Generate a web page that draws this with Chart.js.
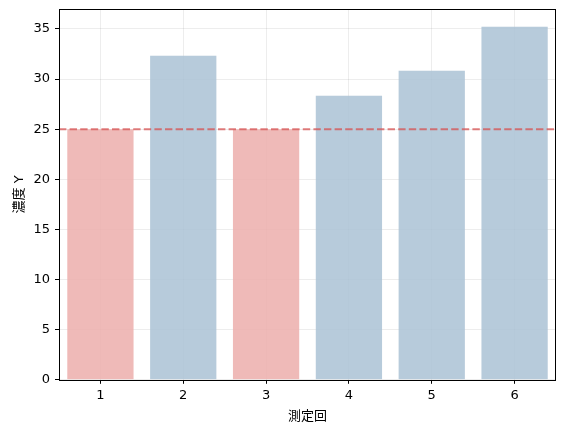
<!DOCTYPE html>
<html>
<head>
<meta charset="utf-8">
<script src="https://cdn.jsdelivr.net/npm/chart.js@4"></script>
<style>
html,body{margin:0;padding:0;background:#fff;}
#wrap{width:564px;height:432px;position:relative;}
</style>
</head>
<body>
<div id="wrap"><canvas id="c" width="564" height="432"></canvas></div>
<script>
const categories = ['1', '2', '3', '4', '5', '6'];
const values = [25.0, 32.33, 25.0, 28.33, 30.83, 35.23];
const threshold = 25;
const yTicks = [0, 5, 10, 15, 20, 25, 30, 35];
const yMax = 36.99;
const xTitle = '測定回';
const yTitle = '濃度 Y';

const RED = 'rgba(237,176,173,0.87)';
const BLUE = 'rgba(170,194,213,0.85)';
const barColors = values.map(v => v <= threshold ? RED : BLUE);

const FONT = '"DejaVu Sans", "Noto Sans CJK JP", sans-serif';

const frame = {
  id: 'frame',
  afterDatasetsDraw(chart) {
    const {ctx, chartArea: a, scales: {y}} = chart;
    const yp = y.getPixelForValue(threshold);
    ctx.save();
    ctx.strokeStyle = 'rgba(214,82,82,0.75)';
    ctx.lineWidth = 2;
    ctx.setLineDash([7.4, 3.2]);
    ctx.beginPath();
    ctx.moveTo(a.left, yp);
    ctx.lineTo(a.right, yp);
    ctx.stroke();
    ctx.restore();
  },
  afterDraw(chart) {
    const {ctx, chartArea: a} = chart;
    ctx.save();
    ctx.strokeStyle = '#000';
    ctx.lineWidth = 1;
    ctx.strokeRect(Math.round(a.left) + 0.5, Math.round(a.top) + 0.5,
      Math.round(a.right - a.left) - 1, Math.round(a.bottom - a.top));
    ctx.restore();
  }
};

new Chart(document.getElementById('c'), {
  type: 'bar',
  data: {
    labels: categories,
    datasets: [{
      data: values,
      backgroundColor: barColors,
      borderWidth: 0,
      barPercentage: 0.8,
      categoryPercentage: 1.0
    }]
  },
  options: {
    responsive: false,
    animation: false,
    devicePixelRatio: 1,
    layout: { padding: { top: 9, right: 8, bottom: 6, left: 0 } },
    plugins: { legend: { display: false }, tooltip: { enabled: false } },
    scales: {
      x: {
        offset: true,
        afterFit(s) { s.paddingLeft = 0; s.paddingRight = 0; },
        grid: { offset: false, color: 'rgba(0,0,0,0.07)', lineWidth: 1, tickColor: '#000', tickLength: 4, drawTicks: true },
        border: { display: false },
        ticks: { color: '#000', font: { family: FONT, size: 13 }, padding: 4, maxRotation: 0 },
        title: { display: true, text: xTitle, color: '#000', font: { family: FONT, size: 13 }, padding: { top: 1, bottom: 2 } }
      },
      y: {
        min: 0,
        max: yMax,
        afterFit(s) { s.width = 59; s.paddingTop = 0; s.paddingBottom = 0; },
        afterBuildTicks(s) { s.ticks = yTicks.map(v => ({ value: v })); },
        grid: { color: 'rgba(0,0,0,0.07)', lineWidth: 1, tickColor: '#000', tickLength: 4 },
        border: { display: false },
        ticks: { color: '#000', font: { family: FONT, size: 13 }, padding: 5 },
        title: { display: true, text: yTitle, color: '#000', font: { family: FONT, size: 13 }, padding: { top: 12, bottom: 0 } }
      }
    }
  },
  plugins: [frame]
});
</script>
</body>
</html>
